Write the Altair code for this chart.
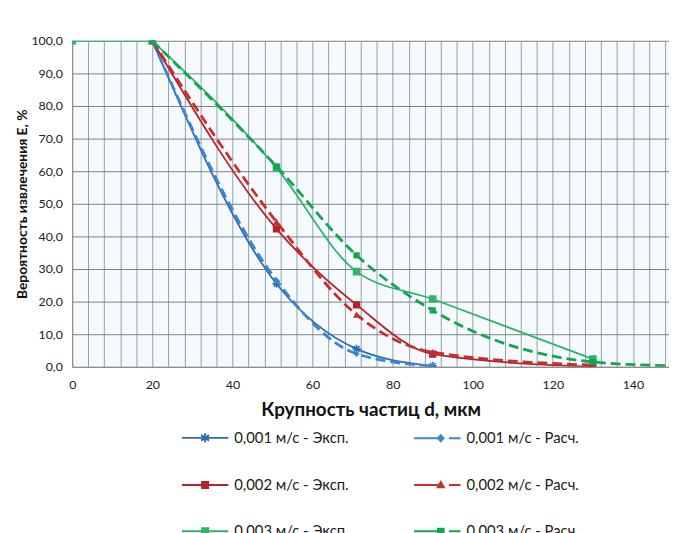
import altair as alt
import pandas as pd

# ---------------- data ----------------
series_names = [
    "0,001 м/с - Эксп.", "0,001 м/с - Расч.",
    "0,002 м/с - Эксп.", "0,002 м/с - Расч.",
    "0,003 м/с - Эксп.", "0,003 м/с - Расч.",
]
series_kind = ["exp", "calc", "exp", "calc", "exp", "calc"]

d_blue_exp = [20, 51, 71, 90]
e_blue_exp = [100.0, 25.5, 5.5, 0.3]
d_blue_calc = [20, 51, 71, 90]
e_blue_calc = [100.0, 26.5, 4.0, 0.2]
d_red_exp = [20, 51, 71, 90, 130]
e_red_exp = [100.0, 42.3, 19.0, 3.9, 0.0]
d_red_calc = [20, 51, 71, 90, 130]
e_red_calc = [100.0, 44.5, 16.0, 4.5, 0.5]
d_green_exp = [0, 20, 51, 71, 90, 130]
e_green_exp = [100.0, 100.0, 61.0, 29.2, 20.8, 2.4]
d_green_calc = [20, 51, 71, 90, 130, 150]
e_green_calc = [100.0, 61.5, 34.2, 17.3, 1.5, 0.3]

x_grid_ticks = list(range(0, 149, 4))
y_ticks = list(range(0, 101, 10))

line_colors = ["#2f6db3", "#3a86d0", "#b5232a", "#c92d2d", "#2db46a", "#12a552"]

all_d = [d_blue_exp, d_blue_calc, d_red_exp, d_red_calc, d_green_exp, d_green_calc]
all_e = [e_blue_exp, e_blue_calc, e_red_exp, e_red_calc, e_green_exp, e_green_calc]
rows = []
line_rows = []
for name, kind, ds, es in zip(series_names, series_kind, all_d, all_e):
    for d, e in zip(ds, es):
        rows.append({"series": name, "kind": kind, "d": d, "E": e})
    # flat start (0..20) is its own segment; the smoothed curve starts at 20
    for d, e in zip(ds, es):
        if d <= 20:
            line_rows.append({"series": name, "kind": kind, "d": d, "E": e, "seg": "a"})
        if d >= 20:
            line_rows.append({"series": name, "kind": kind, "d": d, "E": e, "seg": "b"})
df = pd.DataFrame(rows)
df_lines = pd.DataFrame(line_rows)

x_enc = alt.X(
    "d:Q",
    scale=alt.Scale(domain=[0, 149], nice=False, zero=False),
    axis=alt.Axis(
        values=x_grid_ticks,
        labelExpr="datum.value % 20 == 0 ? datum.label : ''",
        title="Крупность частиц d, мкм",
        titleFontSize=19, titleFontWeight="bold", titleFont="Lato",
        titlePadding=10, titleColor="#111",
        labelFont="Lato", labelFontSize=12.5, labelColor="#222", labelPadding=12,
        ticks=False, grid=True, gridColor="#8ea2b0", gridWidth=1,
        domainColor="#8a8a8a", labelFlush=False,
    ),
)
y_enc = alt.Y(
    "E:Q",
    scale=alt.Scale(domain=[0, 100], nice=False),
    axis=alt.Axis(
        values=y_ticks,
        labelExpr="replace(format(datum.value, '.1f'), '.', ',')",
        title="Вероятность извлечения Е, %",
        titleFontSize=14, titleFontWeight="bold", titleFont="Lato",
        titlePadding=1, titleColor="#111",
        labelFont="Lato", labelFontSize=12.5, labelColor="#222", labelPadding=10,
        ticks=False, grid=True, gridColor="#7a8287", gridWidth=1,
        domainColor="#8a8a8a",
    ),
)

base = alt.Chart(df)
base_lines = alt.Chart(df_lines)

star_path = "M-1,0H1M0,-1V1M-0.7,-0.7L0.7,0.7M-0.7,0.7L0.7,-0.7"
marker_specs = [
    (star_path, False, 70),
    ("diamond", True, 40),
    ("square", True, 55),
    ("triangle-up", True, 55),
    ("square", True, 60),
    ("square", True, 40),
]

layers = []
for name, kind, colr, (shape, filled, size) in zip(series_names, series_kind, line_colors, marker_specs):
    if kind == "exp":
        line = base_lines.transform_filter(alt.datum.series == name).mark_line(
            interpolate="monotone", strokeWidth=1.8, color=colr, clip=True
        )
    else:
        line = base_lines.transform_filter(alt.datum.series == name).mark_line(
            interpolate="monotone", strokeWidth=2.8, strokeDash=[10, 5], color=colr, clip=True
        )
    layers.append(line.encode(x=x_enc, y=y_enc, detail="seg:N"))
    layers.append(
        base.transform_filter(alt.datum.series == name).mark_point(
            shape=shape, filled=filled, size=size, strokeWidth=1.6, opacity=1,
            color=colr, clip=True
        ).encode(x=x_enc, y=y_enc)
    )

legend_paths = [
    "M-1,0H1M0,-0.2V0.2M-0.17,-0.12L0.17,0.12M-0.17,0.12L0.17,-0.12",
    "M-1,0H0.06M0.03,0L0.15,-0.13L0.27,0L0.15,0.13ZM0.5,0H1",
    "M-1,0H1M-0.13,-0.13H0.13V0.13H-0.13Z",
    "M-1,0H0.06M0.02,0.1L0.15,-0.13L0.28,0.1ZM0.5,0H1",
    "M-1,0H1M-0.13,-0.13H0.13V0.13H-0.13Z",
    "M-1,0H0.06M0.03,-0.11H0.27V0.11H0.03ZM0.5,0H1",
]
leg = alt.Legend(
    title=None, orient="none", legendX=110, legendY=377,
    direction="horizontal", columns=2,
    symbolSize=2209, symbolStrokeWidth=2, symbolOpacity=1,
    labelFont="Lato", labelFontSize=15, labelColor="#1a1a1a", labelOffset=5,
    rowPadding=14, columnPadding=62, labelLimit=300,
)
legend_layer = alt.Chart(pd.DataFrame({"series": series_names})).mark_point(
    strokeWidth=2, clip=True
).encode(
    x=alt.value(-300), y=alt.value(-300),
    shape=alt.Shape("series:N", scale=alt.Scale(domain=series_names, range=legend_paths), legend=leg),
    fill=alt.Fill("series:N", scale=alt.Scale(domain=series_names, range=line_colors), legend=leg),
    stroke=alt.Stroke("series:N", scale=alt.Scale(domain=series_names, range=line_colors), legend=leg),
)

chart = alt.layer(*layers, legend_layer).properties(
    width=604, height=330,
    autosize=alt.AutoSizeParams(type="none"),
    padding={"left": 65, "top": 30, "right": 0, "bottom": 165},
    background="white",
).configure_view(fill="#f6fafd", stroke=None)

chart.save("out.html", embed_options={"renderer": "svg", "actions": False})
